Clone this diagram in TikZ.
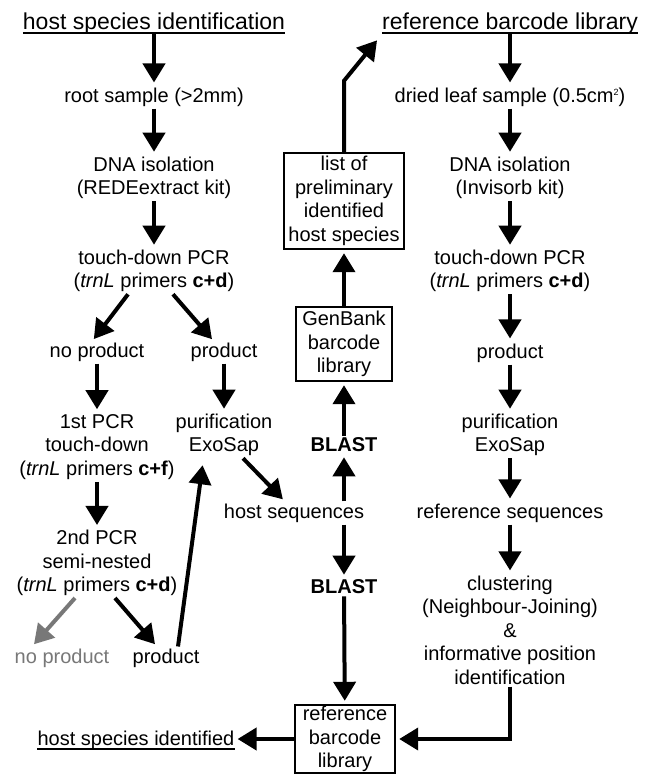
\documentclass[tikz,border=0pt]{standalone}
\usepackage{fontspec}
\setmainfont{Liberation Sans}
\usetikzlibrary{arrows.meta,calc}
\newcommand\bodyfont{\fontsize{20}{23.5}\selectfont}
\newcommand\headfont{\fontsize{23}{27}\selectfont}
\newcommand\tinysup[1]{\raisebox{7pt}{\fontsize{9}{9}\selectfont #1}}
\definecolor{grayc}{RGB}{120,120,120}
\tikzset{
  txt/.style={font=\bodyfont, align=center, inner sep=2pt},
  head/.style={font=\headfont, inner sep=0pt, anchor=base},
  boxnode/.style={font=\bodyfont, align=center, inner sep=0pt, draw, line width=2.4pt},
  arr/.style={line width=4pt, -{Triangle[width=22pt,length=19pt]}, shorten >=3pt},
  ul/.style={line width=1.3pt}
}
\begin{document}
\begin{tikzpicture}[x=1pt,y=-1pt]
\fill[white] (0,0) rectangle (655,774);
\useasboundingbox (0,0) rectangle (655,774);
% headings
\node[head] (title1) at (154,29) {host species identification};
\draw[ul] ($(title1.base west)+(0,4)$) -- ($(title1.base east)+(0,4)$);
\node[head] (title2) at (510,29) {reference barcode library};
\draw[ul] ($(title2.base west)+(0,4)$) -- ($(title2.base east)+(0,4)$);
\node[head, font=\bodyfont] (hostid) at (136,745) {host species identified};
\draw[ul] ($(hostid.base west)+(0,4)$) -- ($(hostid.base east)+(0,4)$);
% left column
\node[txt] (root) at (154,97) {root sample (>2mm)};
\node[txt] (dna1) at (154,178) {DNA isolation\\(REDEextract kit)};
\node[txt] (pcr1) at (154,271) {touch-down PCR\\(\textit{trnL} primers \textbf{c+d})};
\node[txt] (np1) at (97,352) {no product};
\node[txt] (p1) at (224,352) {product};
\node[txt] (pcrA) at (97,447) {1st PCR\\touch-down\\(\textit{trnL} primers \textbf{c+f})};
\node[txt] (pur1) at (224,435) {purification\\ExoSap};
\node[txt] (pcrB) at (97,563) {2nd PCR\\semi-nested\\(\textit{trnL} primers \textbf{c+d})};
\node[txt, text=grayc] (np2) at (62,658) {no product};
\node[txt] (p2) at (166,658) {product};
% centre column
\node[txt] (hs) at (294,513) {host sequences};
\node[txt, font=\bodyfont\bfseries] (bl1) at (344,445) {BLAST};
\node[boxnode, minimum width=96pt, minimum height=74pt] (gb) at (344,344) {GenBank\\barcode\\library};
\node[boxnode, minimum width=120pt, minimum height=96pt] (list) at (344,201) {list of\\preliminary\\identified\\host species};
\node[txt, font=\bodyfont\bfseries] (bl2) at (344,587) {BLAST};
\node[boxnode, minimum width=100pt, minimum height=68pt] (rb) at (345,739) {reference\\barcode\\library};
% right column
\node[txt] (dried) at (510,97) {dried leaf sample (0.5cm\tinysup{2})};
\node[txt] (dna2) at (510,178) {DNA isolation\\(Invisorb kit)};
\node[txt] (pcr2) at (510,271) {touch-down PCR\\(\textit{trnL} primers \textbf{c+d})};
\node[txt] (pR) at (510,353) {product};
\node[txt] (pur2) at (510,435) {purification\\ExoSap};
\node[txt] (rs) at (510,513) {reference sequences};
\node[txt] (cl) at (510,630) {clustering\\(Neighbour-Joining)\\\&\\informative position\\identification};
% left arrows
\draw[arr] ($(title1.base)+(0,4)$) -- (root);
\draw[arr] (root) -- (dna1);
\draw[arr] (dna1) -- (pcr1);
\draw[arr] ($(pcr1.south)+(-26,0)$) -- ($(np1.north)+(-5,1)$);
\draw[arr] ($(pcr1.south)+(19,0)$) -- ($(p1.north)+(-10,1)$);
\draw[arr] (np1) -- (pcrA);
\draw[arr] (p1) -- (pur1);
\draw[arr] (pcrA) -- (pcrB);
\draw[arr, grayc] ($(pcrB.south)+(-22,0)$) -- ($(np2.north)+(-30,0)$);
\draw[arr] ($(pcrB.south)+(18,0)$) -- ($(p2.north)+(-9,0)$);
\draw[arr] ($(p2.north)+(12,0)$) -- ($(pur1.south)+(-21,4)$);
\draw[arr] ($(pur1.south)+(19,0)$) -- ($(hs.north)+(-9,0)$);
% centre arrows
\draw[arr] (hs.north -| bl1) -- (bl1);
\draw[arr] (bl1) -- (gb);
\draw[arr] (gb) -- (list);
\draw[arr] (list.north) -- ++(0,-71) -- ($(title2.base west)+(-3,9)$);
\draw[arr] (hs.south -| bl2) -- (bl2);
\draw[arr] (bl2) -- (rb);
\draw[arr] (rb.west) -- (rb.west -| hostid.east);
% right arrows
\draw[arr] ($(title2.base)+(0,4)$) -- (dried);
\draw[arr] (dried) -- (dna2);
\draw[arr] (dna2) -- (pcr2);
\draw[arr] (pcr2) -- (pR);
\draw[arr] (pR) -- (pur2);
\draw[arr] (pur2) -- (rs);
\draw[arr] (rs) -- (cl);
\draw[arr] (cl.south) -- (cl.south |- rb.east) -- (rb.east);
\end{tikzpicture}
\end{document}
